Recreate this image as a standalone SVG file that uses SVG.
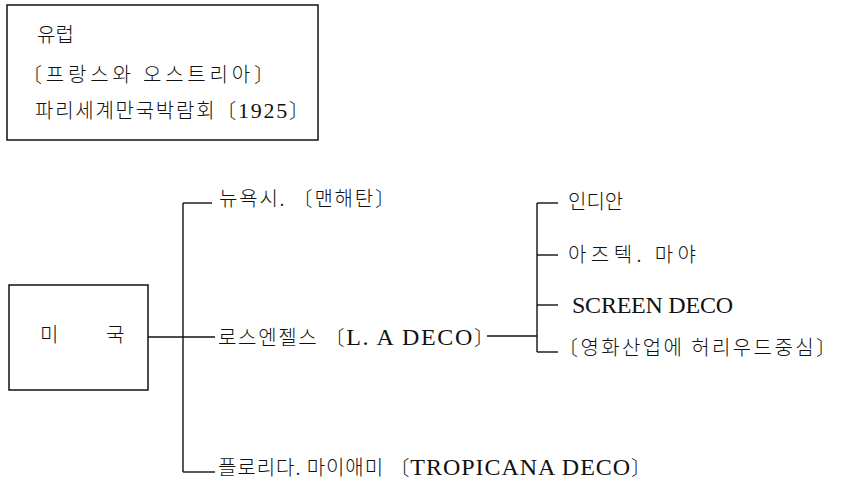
<svg xmlns="http://www.w3.org/2000/svg" width="841" height="484" viewBox="0 0 841 484">
  <style>
    .box { fill: none; stroke: #111; stroke-width: 1.5; }
    .ln { fill: none; stroke: #111; stroke-width: 1.4; }
    .t { font-family: "Noto Sans CJK KR", "Noto Sans", sans-serif; font-size: 20px; font-weight: 300; fill: #111; }
    .lat { font-family: "Liberation Serif", "Noto Sans CJK KR", serif; font-size: 24px; font-weight: 400; }
    .num { font-family: "Liberation Serif", serif; font-size: 22px; font-weight: 400; }
  </style>
  <rect width="841" height="484" fill="#fff"/>

  <g id="europe">
    <rect class="box" x="7" y="5" width="311" height="135"/>
    <text class="t" x="37" y="42">유럽</text>
    <text class="t" x="22" y="82" textLength="252" lengthAdjust="spacing">〔프랑스와 오스트리아〕</text>
    <text class="t" x="35" y="118" textLength="274" lengthAdjust="spacing">파리세계만국박람회〔<tspan class="num">1925</tspan>〕</text>
  </g>

  <g id="usa">
    <rect class="box" x="9" y="285" width="139" height="105"/>
    <text class="t" y="342"><tspan x="40">미</tspan><tspan x="106">국</tspan></text>
  </g>

  <g id="newyork">
    <text class="t" x="219" y="206" textLength="176" lengthAdjust="spacing">뉴욕시. 〔맨해탄〕</text>
  </g>
  <g id="losangeles">
    <text class="t" x="218" y="345" textLength="276" lengthAdjust="spacing">로스엔젤스 〔<tspan class="lat">L. A DECO</tspan>〕</text>
  </g>
  <g id="florida">
    <text class="t" x="218" y="475" textLength="433" lengthAdjust="spacing">플로리다. 마이애미 〔<tspan class="lat">TROPICANA DECO</tspan>〕</text>
  </g>
  <g id="indian">
    <text class="t" x="568" y="209">인디안</text>
  </g>
  <g id="aztec">
    <text class="t" x="568" y="262" textLength="128" lengthAdjust="spacing">아즈텍. 마야</text>
  </g>
  <g id="screen">
    <text class="t lat" x="572" y="313" textLength="161" lengthAdjust="spacing">SCREEN DECO</text>
  </g>
  <g id="hollywood">
    <text class="t" x="558" y="355" textLength="278" lengthAdjust="spacing">〔영화산업에 허리우드중심〕</text>
  </g>

  <g id="connectors">
    <path class="ln" d="M148 337 H215"/>
    <path class="ln" d="M183 203 V472"/>
    <path class="ln" d="M183 203 H212"/>
    <path class="ln" d="M183 472 H215"/>
    <path class="ln" d="M487 336 H537"/>
    <path class="ln" d="M537 203 V352"/>
    <path class="ln" d="M537 203 H558"/>
    <path class="ln" d="M537 255 H558"/>
    <path class="ln" d="M537 305 H558"/>
    <path class="ln" d="M537 352 H558"/>
  </g>
</svg>
